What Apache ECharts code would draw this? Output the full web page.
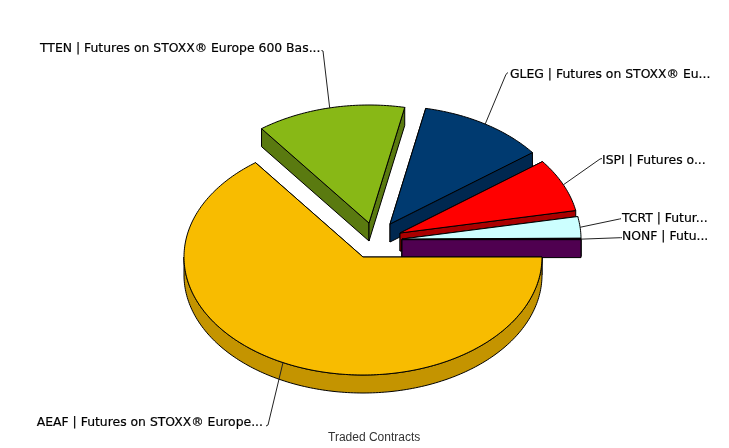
<!DOCTYPE html>
<html>
<head>
<meta charset="utf-8">
<style>html,body{margin:0;padding:0;background:#fff}#c{width:729px;height:448px}</style>
<script src="https://cdn.jsdelivr.net/npm/echarts@6/dist/echarts.min.js"></script>
</head>
<body>
<div id="c"></div>
<script>
// Data
var labels = [
  'AEAF | Futures on STOXX® Europe...',
  'TTEN | Futures on STOXX® Europe 600 Bas...',
  'GLEG | Futures on STOXX® Eu...',
  'ISPI | Futures o...',
  'TCRT | Futur...',
  'NONF | Futu...'
];
var tradedContracts = [64.75, 13.45, 11.45, 7.3, 2.93, 0.12];
var axisTitle = 'Traded Contracts';

// Styling
var topColors  = ['#F8BC00', '#88B816', '#003A70', '#FF0000', '#CCFFFF', '#4F0050'];
var sideColors = ['#C49400', '#5A7A10', '#002850', '#AA0000', '#88AAAA', '#4F0050'];

// Layout of the exploded, tilted pie
var RX = 179, RY = 118, DEPTH = 18;
var centers = [[363,257],[369,223],[390,224],[400,233],[402,239],[402,239.6]];
var labelElbows = [[268,425],[323,51],[506,74.3],[600,159],[619.5,219],[620.5,237.7]];
var labelHooks = [[266,426],[321.5,50.5],[508,72.5],[602,158.5],[621,218.7],[622,237.7]];
var labelAnchors = [[263,423],[40,49],[510,75],[602,161],[622,219],[622,237]];
var labelAlign = ['right','left','left','left','left','left'];
var drawOrder = [1,2,3,4,5,0];

var total = tradedContracts.reduce(function(a,b){return a+b;},0);
var starts = [], acc = 0;
tradedContracts.forEach(function(v){ starts.push(acc); acc += v/total*Math.PI*2; });
starts.push(Math.PI*2);

function pt(c, a, dy){ return [c[0]+RX*Math.cos(a), c[1]+RY*Math.sin(a)+(dy||0)]; }
function arc(c, a0, a1, dy){
  var n = Math.max(2, Math.ceil(Math.abs(a1-a0)/(Math.PI/180))), out = [];
  for (var i=0;i<=n;i++) out.push(pt(c, a0+(a1-a0)*i/n, dy));
  return out;
}
function poly(points, fill){
  return {type:'polygon', silent:true, shape:{points:points},
    style:{fill:fill, stroke:'#000', lineWidth:1, lineJoin:'round'}};
}

function renderItem(params, api){
  var i = api.value(0), c = centers[i], a0 = starts[i], a1 = starts[i+1], kids = [];
  var side = sideColors[i], top = topColors[i];
  var p0 = pt(c,a0), p1 = pt(c,a1);
  // cut faces
  kids.push(poly([c,p0,[p0[0],p0[1]+DEPTH],[c[0],c[1]+DEPTH]], side));
  kids.push(poly([c,p1,[p1[0],p1[1]+DEPTH],[c[0],c[1]+DEPTH]], side));
  // outer rim: only the near half of the ellipse is visible
  var r0 = Math.max(a0,0), r1 = Math.min(a1,Math.PI);
  if (r1 > r0) kids.push(poly(arc(c,r0,r1,0).concat(arc(c,r1,r0,DEPTH)), side));
  // top face
  kids.push(poly([c].concat(arc(c,a0,a1,0)), top));
  // leader line + label
  var mid = (a0+a1)/2, m = pt(c,mid), e = labelElbows[i], t = labelAnchors[i];
  kids.push({type:'polyline', silent:true, shape:{points:[m,e,labelHooks[i]]},
    style:{fill:null, stroke:'#222', lineWidth:1}});
  kids.push({type:'text', silent:true, style:{x:t[0], y:t[1], text:labels[i],
    font:'12.4px "DejaVu Sans"', fill:'#000', stroke:'#000', lineWidth:0.2,
    align:labelAlign[i], verticalAlign:'middle'}});
  return {type:'group', children:kids};
}

var chart = echarts.init(document.getElementById('c'), null, {renderer:'canvas'});
chart.setOption({
  animation:false,
  backgroundColor:'#fff',
  title:{text:axisTitle, left:328, top:432, padding:0,
    textStyle:{fontFamily:'Liberation Sans', fontSize:12, fontWeight:'normal', color:'#333'}},
  series:[{
    type:'custom', coordinateSystem:'none', silent:true,
    renderItem:renderItem,
    data:drawOrder.map(function(i){return [i, tradedContracts[i]];})
  }]
});
</script>
</body>
</html>
